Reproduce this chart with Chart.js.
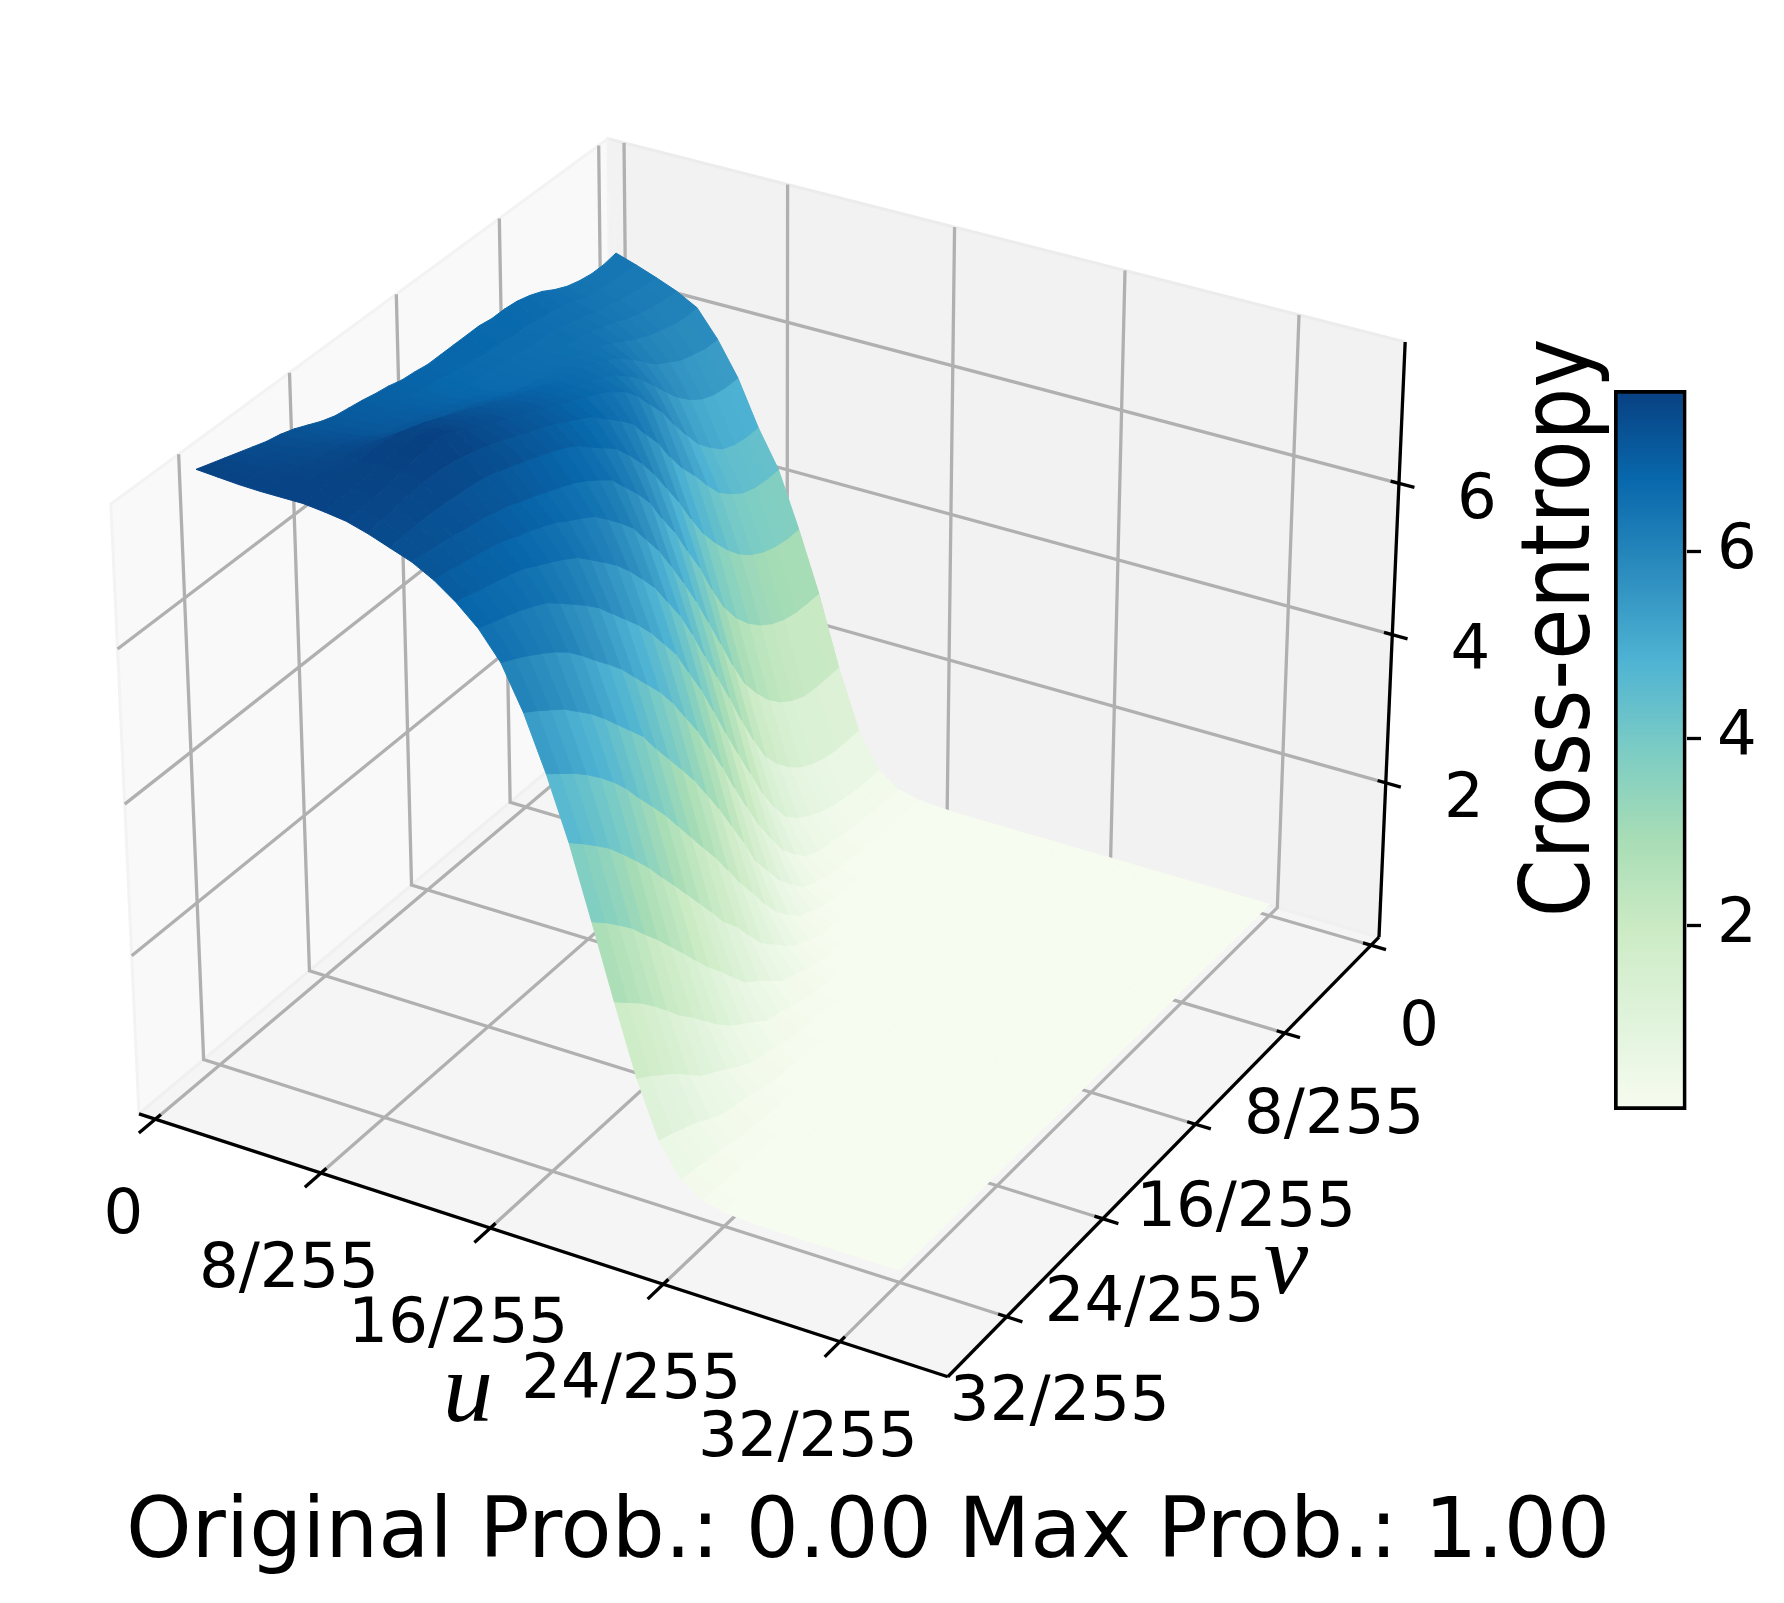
<!DOCTYPE html>
<html><head><meta charset="utf-8">
<script src="https://cdn.jsdelivr.net/npm/chart.js@4/dist/chart.umd.js"></script>
<style>
html,body{margin:0;padding:0;background:#fff;}
#wrap{position:relative;width:1784px;height:1603px;overflow:hidden;}
#main{position:absolute;left:0;top:0;}
#bar{position:absolute;left:1600px;top:0;}
</style></head><body>
<div id="wrap"><canvas id="main" width="1784" height="1603"></canvas><canvas id="bar" width="184" height="1603"></canvas></div>
<script>
// Values (u, v in 1/255 units)
const gridU=[0,1,2,3,4,5,6,7,8,9,10,11,12,13,14,15,16,17,18,19,20,21,22,23,24,25,26,27,28,29,30,31,32];
const gridV=[0,1,2,3,4,5,6,7,8,9,10,11,12,13,14,15,16,17,18,19,20,21,22,23,24,25,26,27,28,29,30,31,32];
const z00=[6.45,6.42,6.42,6.45,6.5,6.58,6.68,6.75,6.8,6.82,6.82,6.85,6.85,6.85,6.85,6.85,6.88,6.9,6.95,6.98,7.02,7.05,7.08,7.14,7.22,7.3,7.36,7.4,7.46,7.52,7.58,7.64,7.7];
const z01=[6.36,6.36,6.38,6.4,6.42,6.5,6.55,6.58,6.62,6.65,6.65,6.68,6.7,6.72,6.75,6.78,6.82,6.85,6.9,6.95,7.0,7.05,7.1,7.15,7.22,7.3,7.36,7.42,7.48,7.52,7.58,7.62,7.68];
const z02=[6.26,6.26,6.3,6.33,6.38,6.42,6.48,6.52,6.58,6.6,6.62,6.64,6.66,6.68,6.7,6.72,6.78,6.84,6.9,6.96,7.02,7.06,7.12,7.18,7.25,7.32,7.4,7.46,7.5,7.54,7.6,7.63,7.66];
const z03=[6.15,6.15,6.18,6.22,6.28,6.36,6.42,6.48,6.52,6.55,6.58,6.6,6.62,6.66,6.68,6.72,6.8,6.86,6.92,6.98,7.05,7.1,7.15,7.2,7.3,7.38,7.45,7.5,7.54,7.58,7.62,7.64,7.65];
const z04=[6.0,6.0,6.02,6.06,6.12,6.2,6.3,6.4,6.48,6.54,6.58,6.62,6.65,6.68,6.72,6.78,6.85,6.92,7.0,7.06,7.12,7.18,7.25,7.32,7.38,7.45,7.52,7.56,7.58,7.6,7.62,7.64,7.65];
const z05=[5.65,5.65,5.7,5.75,5.85,5.95,6.1,6.25,6.4,6.5,6.6,6.65,6.7,6.75,6.82,6.88,6.95,7.02,7.1,7.18,7.26,7.34,7.42,7.5,7.56,7.62,7.65,7.66,7.66,7.66,7.66,7.65,7.65];
const z06=[5.2,5.2,5.23,5.3,5.42,5.58,5.78,6.0,6.2,6.36,6.5,6.6,6.68,6.74,6.82,6.9,6.98,7.06,7.14,7.22,7.3,7.38,7.46,7.54,7.62,7.68,7.7,7.69,7.67,7.66,7.65,7.63,7.62];
const z07=[4.6,4.6,4.63,4.7,4.85,5.03,5.28,5.55,5.85,6.08,6.32,6.5,6.62,6.72,6.8,6.88,6.96,7.05,7.14,7.22,7.3,7.38,7.46,7.54,7.66,7.73,7.72,7.69,7.66,7.63,7.6,7.59,7.58];
const z08=[4.1,4.1,4.12,4.18,4.3,4.45,4.68,4.94,5.17,5.45,5.77,6.02,6.28,6.45,6.6,6.75,6.85,6.95,7.05,7.13,7.2,7.28,7.36,7.43,7.49,7.54,7.58,7.6,7.6,7.59,7.57,7.54,7.5];
const z09=[3.36,3.36,3.39,3.45,3.55,3.69,3.88,4.11,4.37,4.7,5.06,5.38,5.7,5.97,6.21,6.42,6.56,6.7,6.85,6.95,7.03,7.1,7.17,7.24,7.3,7.35,7.38,7.4,7.42,7.43,7.43,7.42,7.4];
const z10=[2.55,2.55,2.56,2.6,2.68,2.8,2.96,3.17,3.45,3.83,4.26,4.62,5.0,5.31,5.66,5.91,6.13,6.35,6.48,6.6,6.7,6.78,6.85,6.93,6.99,7.07,7.11,7.15,7.18,7.22,7.25,7.27,7.3];
const z11=[1.6,1.6,1.6,1.62,1.7,1.82,1.99,2.22,2.49,2.88,3.31,3.74,4.16,4.54,4.9,5.24,5.52,5.8,6.0,6.18,6.35,6.46,6.56,6.67,6.75,6.83,6.88,6.95,7.0,7.04,7.08,7.12,7.15];
const z12=[0.8,0.8,0.8,0.84,0.9,1.0,1.14,1.33,1.57,1.94,2.35,2.8,3.22,3.64,4.07,4.46,4.78,5.1,5.35,5.59,5.8,5.97,6.14,6.3,6.41,6.51,6.6,6.7,6.76,6.81,6.86,6.91,6.95];
const z13=[0.32,0.32,0.33,0.36,0.4,0.46,0.55,0.66,0.82,1.1,1.44,1.85,2.26,2.68,3.12,3.55,3.92,4.3,4.58,4.86,5.1,5.31,5.52,5.73,5.9,6.05,6.2,6.34,6.43,6.51,6.58,6.64,6.7];
const z14=[0.13,0.13,0.14,0.15,0.17,0.2,0.24,0.28,0.36,0.53,0.73,1.04,1.37,1.76,2.16,2.59,2.98,3.36,3.69,4.02,4.3,4.54,4.78,5.02,5.22,5.41,5.61,5.79,5.93,6.05,6.16,6.26,6.35];
const z15=[0.06,0.06,0.06,0.07,0.07,0.08,0.1,0.12,0.15,0.22,0.31,0.49,0.69,0.97,1.25,1.66,2.03,2.4,2.74,3.07,3.36,3.64,3.92,4.22,4.44,4.66,4.88,5.08,5.25,5.42,5.55,5.68,5.8];
const z16=[0.04,0.04,0.04,0.04,0.04,0.05,0.05,0.06,0.07,0.09,0.13,0.2,0.29,0.45,0.64,0.9,1.2,1.48,1.8,2.12,2.4,2.69,2.98,3.27,3.53,3.78,4.05,4.28,4.48,4.66,4.82,4.96,5.1];
const z17=[0.03,0.03,0.03,0.03,0.03,0.03,0.04,0.04,0.04,0.05,0.06,0.09,0.12,0.19,0.27,0.41,0.58,0.75,1.0,1.27,1.48,1.76,2.03,2.3,2.57,2.83,3.1,3.34,3.57,3.79,3.97,4.14,4.3];
const z18=[0.03,0.03,0.03,0.03,0.03,0.03,0.03,0.03,0.03,0.03,0.04,0.05,0.06,0.08,0.11,0.17,0.25,0.32,0.47,0.62,0.75,0.97,1.2,1.41,1.65,1.9,2.14,2.38,2.6,2.83,3.02,3.2,3.36];
const z19=[0.03,0.03,0.03,0.03,0.03,0.03,0.03,0.03,0.03,0.03,0.03,0.03,0.04,0.05,0.05,0.07,0.1,0.13,0.19,0.27,0.32,0.45,0.58,0.71,0.88,1.08,1.28,1.46,1.68,1.89,2.08,2.24,2.4];
const z20=[0.03,0.03,0.03,0.03,0.03,0.03,0.03,0.03,0.03,0.03,0.03,0.03,0.03,0.03,0.04,0.04,0.05,0.06,0.08,0.11,0.13,0.19,0.25,0.3,0.4,0.52,0.63,0.74,0.91,1.08,1.22,1.36,1.48];
const z21=[0.03,0.03,0.03,0.03,0.03,0.03,0.03,0.03,0.03,0.03,0.03,0.03,0.03,0.03,0.03,0.03,0.03,0.04,0.04,0.05,0.06,0.08,0.1,0.12,0.16,0.22,0.27,0.32,0.41,0.52,0.6,0.68,0.75];
const z22=[0.03,0.03,0.03,0.03,0.03,0.03,0.03,0.03,0.03,0.03,0.03,0.03,0.03,0.03,0.03,0.03,0.03,0.03,0.03,0.03,0.04,0.04,0.05,0.06,0.07,0.09,0.11,0.13,0.17,0.21,0.25,0.29,0.32];
const z23=[0.03,0.03,0.03,0.03,0.03,0.03,0.03,0.03,0.03,0.03,0.03,0.03,0.03,0.03,0.03,0.03,0.03,0.03,0.03,0.03,0.03,0.03,0.03,0.03,0.04,0.05,0.05,0.06,0.07,0.08,0.1,0.11,0.13];
const z24=[0.03,0.03,0.03,0.03,0.03,0.03,0.03,0.03,0.03,0.03,0.03,0.03,0.03,0.03,0.03,0.03,0.03,0.03,0.03,0.03,0.03,0.03,0.03,0.03,0.03,0.03,0.04,0.04,0.04,0.05,0.05,0.05,0.06];
const z25=[0.03,0.03,0.03,0.03,0.03,0.03,0.03,0.03,0.03,0.03,0.03,0.03,0.03,0.03,0.03,0.03,0.03,0.03,0.03,0.03,0.03,0.03,0.03,0.03,0.03,0.03,0.03,0.03,0.03,0.03,0.04,0.04,0.04];
const z26=[0.03,0.03,0.03,0.03,0.03,0.03,0.03,0.03,0.03,0.03,0.03,0.03,0.03,0.03,0.03,0.03,0.03,0.03,0.03,0.03,0.03,0.03,0.03,0.03,0.03,0.03,0.03,0.03,0.03,0.03,0.03,0.03,0.03];
const z27=z26,z28=z26,z29=z26,z30=z26,z31=z26,z32=z26;
const zRows=[z00,z01,z02,z03,z04,z05,z06,z07,z08,z09,z10,z11,z12,z13,z14,z15,z16,z17,z18,z19,z20,z21,z22,z23,z24,z25,z26,z27,z28,z29,z30,z31,z32];

const uTicks=[0,8,16,24,32];
const uTickLabels=['0','8/255','16/255','24/255','32/255'];
const vTicks=[0,8,16,24,32];
const vTickLabels=['0','8/255','16/255','24/255','32/255'];
const zTicks=[2,4,6];
const cbTicks=[2,4,6];
const uLimits=[-0.8,36.8];
const vLimits=[-0.75,36.75];
const zLimits=[-0.13,7.83];
const colorLimits=[0.03,7.73];
const gnbu=['#f7fcf0','#e0f3db','#ccebc5','#a8ddb5','#7bccc4','#4eb3d3','#2b8cbe','#0868ac','#084081'];

// Camera
const elev=30*Math.PI/180, azim=-60*Math.PI/180, dist=10;
const box=[1.14286,1.14286,0.85714];
const wv=[Math.cos(elev)*Math.cos(azim),Math.cos(elev)*Math.sin(azim),Math.sin(elev)];
const uv=[-Math.sin(azim),Math.cos(azim),0];
const vv=[wv[1]*uv[2]-wv[2]*uv[1],wv[2]*uv[0]-wv[0]*uv[2],wv[0]*uv[1]-wv[1]*uv[0]];
function dot(a,b){return a[0]*b[0]+a[1]*b[1]+a[2]*b[2];}
function view(u,v,z){
  const p=[((u-uLimits[0])/(uLimits[1]-uLimits[0])-.5)*box[0],
           ((vLimits[1]-v)/(vLimits[1]-vLimits[0])-.5)*box[1],
           ((z-zLimits[0])/(zLimits[1]-zLimits[0])-.5)*box[2]];
  const d=dist-dot(wv,p);
  return {x:dot(uv,p)/d,y:dot(vv,p)/d,depth:dot(wv,p)};
}
const viewX=[-0.09494,0.11911], viewY=[-0.08903,0.08989];

function hex(c){return [1,3,5].map(i=>parseInt(c.substr(i,2),16));}
function cmap(z){
  let t=(z-colorLimits[0])/(colorLimits[1]-colorLimits[0]);t=Math.max(0,Math.min(1,t))*(gnbu.length-1);
  const i=Math.min(gnbu.length-2,Math.floor(t)),f=t-i,a=hex(gnbu[i]),b=hex(gnbu[i+1]);
  return 'rgb('+a.map((x,k)=>Math.round(x+(b[k]-x)*f)).join(',')+')';
}
function line(pts,color,width,extra){
  return Object.assign({data:pts.map(p=>{const q=view(p[0],p[1],p[2]);return {x:q.x,y:q.y};}),showLine:true,pointRadius:0,pointHoverRadius:0,borderColor:color,borderWidth:width,tension:0,fill:false,clip:false,borderCapStyle:'butt'},extra||{});
}
function poly(pts,color,edge,width){
  return line(pts.concat([pts[0]]),edge,width,{backgroundColor:color,fill:'shape',borderJoinStyle:'round'});
}

// Surface facets, painter order
const quads=[];
for(let i=0;i<gridU.length-1;i++)for(let j=0;j<gridV.length-1;j++){
  const c=[[i,j],[i+1,j],[i+1,j+1],[i,j+1]].map(a=>[gridU[a[0]],gridV[a[1]],zRows[a[0]][a[1]]]);
  const zm=c.reduce((s,p)=>s+p[2],0)/4;
  const dp=c.reduce((s,p)=>s+view(p[0],p[1],p[2]).depth,0)/4;
  quads.push({c,zm,dp});
}
quads.sort((a,b)=>b.dp-a.dp); // nearest first: dataset 0 is drawn last

const [U0,U1]=uLimits,[V0,V1]=vLimits,[Z0,Z1]=zLimits;
const gridColor='#b0b0b0',lw=3.3;
const datasets=[];
quads.forEach(q=>{const col=cmap(q.zm);datasets.push(poly(q.c,col,col,1));});
// ticks and axis lines
uTicks.forEach(t=>datasets.push(line([[t,V1+1.2,Z0],[t,V1-0.4,Z0]],'#000',lw)));
vTicks.forEach(t=>datasets.push(line([[U1+0.7,t,Z0],[U1-0.38,t,Z0]],'#000',lw)));
zTicks.forEach(t=>datasets.push(line([[U1+0.7,V0,t],[U1-0.38,V0,t]],'#000',lw)));
datasets.push(line([[U0,V1,Z0],[U1,V1,Z0]],'#000',lw));
datasets.push(line([[U1,V1,Z0],[U1,V0,Z0]],'#000',lw));
datasets.push(line([[U1,V0,Z0],[U1,V0,Z1]],'#000',lw));
// grid
uTicks.forEach(t=>datasets.push(line([[t,V1,Z0],[t,V0,Z0],[t,V0,Z1]],gridColor,lw)));
vTicks.forEach(t=>datasets.push(line([[U1,t,Z0],[U0,t,Z0],[U0,t,Z1]],gridColor,lw)));
zTicks.forEach(t=>datasets.push(line([[U0,V1,t],[U0,V0,t],[U1,V0,t]],gridColor,lw)));
// panes
datasets.push(poly([[U0,V1,Z0],[U1,V1,Z0],[U1,V0,Z0],[U0,V0,Z0]],'#f5f5f5','#f0f0f0',3));
datasets.push(poly([[U0,V1,Z0],[U0,V0,Z0],[U0,V0,Z1],[U0,V1,Z1]],'#f9f9f9','#f3f3f3',3));
datasets.push(poly([[U0,V0,Z0],[U1,V0,Z0],[U1,V0,Z1],[U0,V0,Z1]],'#f2f2f2','#ececec',3));

const font62='62.5px "DejaVu Sans"', font83='83px "DejaVu Sans"';
const labelPlugin={id:'axisLabels',afterDraw(chart){
  const c=chart.ctx,sx=chart.scales.x,sy=chart.scales.y;
  const at=(u,v,z)=>{const q=view(u,v,z);return [sx.getPixelForValue(q.x),sy.getPixelForValue(q.y)];};
  c.save();c.fillStyle='#000';c.textAlign='center';c.textBaseline='middle';c.font=font62;
  uTicks.forEach((t,i)=>{const p=at(t,V1,Z0);c.fillText(uTickLabels[i],p[0]-32,p[1]+98);});
  vTicks.forEach((t,i)=>{const p=at(U1,t,Z0);c.fillText(vTickLabels[i],p[0]+48+t*0.16,p[1]+83+t*0.13);});
  zTicks.forEach(t=>{const p=at(U1,V0,t);c.fillText(String(t),p[0]+78,p[1]+18);});
  c.font='italic 100px "Liberation Serif"';
  c.fillText('u',468,1395);
  c.fillText('v',1286,1267);
  c.font=font83;
  c.translate(1564,628);c.rotate(-Math.PI/2);c.scale(1,1.15);c.fillText('Cross-entropy',0,0);
  c.restore();
}};

new Chart(document.getElementById('main'),{
  type:'scatter',
  data:{datasets},
  options:{responsive:false,animation:false,devicePixelRatio:1,events:[],
    layout:{padding:{right:48}},
    plugins:{legend:{display:false},tooltip:{enabled:false},
      title:{display:true,text:'Original Prob.: 0.00 Max Prob.: 1.00',position:'bottom',color:'#000',
        font:{family:'"DejaVu Sans"',size:83.5,weight:'normal',lineHeight:1.2},padding:{top:34,bottom:17.4}}},
    scales:{x:{type:'linear',display:false,min:viewX[0],max:viewX[1]},
            y:{type:'linear',display:false,min:viewY[0],max:viewY[1]}}},
  plugins:[labelPlugin]
});

new Chart(document.getElementById('bar'),{
  type:'bar',
  data:{labels:['Cross-entropy'],datasets:[{data:[colorLimits],barPercentage:1,categoryPercentage:1,
    borderColor:'#000',borderWidth:4,borderSkipped:false,
    backgroundColor(ctx){const a=ctx.chart.chartArea;if(!a)return gnbu[4];
      const g=ctx.chart.ctx.createLinearGradient(0,a.bottom,0,a.top);gnbu.forEach((c,i)=>g.addColorStop(i/(gnbu.length-1),c));return g;}}]},
  options:{responsive:false,animation:false,devicePixelRatio:1,events:[],
    layout:{padding:{left:14,right:25,top:390,bottom:493}},
    plugins:{legend:{display:false},tooltip:{enabled:false}},
    scales:{x:{display:false},
      y:{position:'right',min:colorLimits[0],max:colorLimits[1],border:{display:false},
        afterBuildTicks(s){s.ticks=cbTicks.map(value=>({value}));},
        grid:{drawOnChartArea:false,drawTicks:true,tickLength:14.5,tickColor:'#000',tickWidth:3.3,color:'#000'},
        ticks:{color:'#000',padding:16,font:{family:'"DejaVu Sans"',size:62.5}}}}}
});
</script>
</body></html>
